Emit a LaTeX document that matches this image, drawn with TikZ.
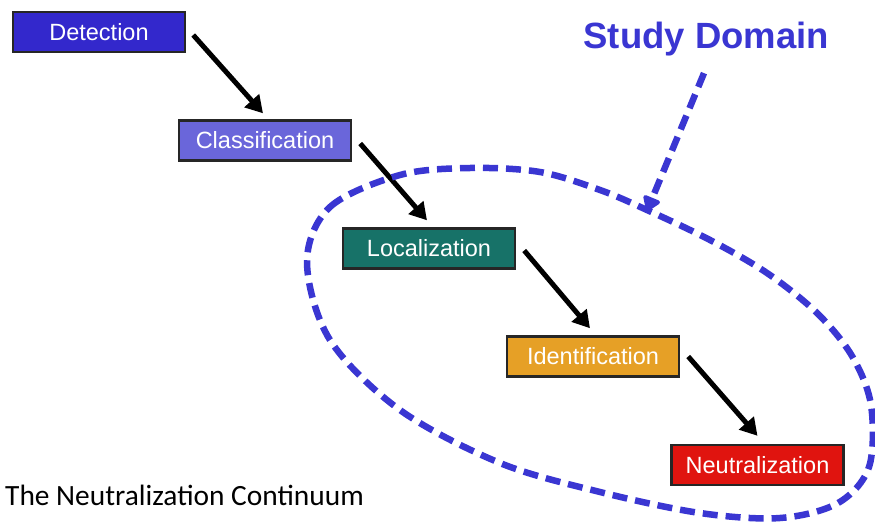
\documentclass[tikz,border=0pt]{standalone}
\usepackage{fontspec}
\setmainfont{Liberation Sans}
\newfontfamily\capfont{Carlito}
\usetikzlibrary{arrows.meta}
\definecolor{detc}{HTML}{3328CC}
\definecolor{clsc}{HTML}{6A66DA}
\definecolor{locc}{HTML}{177268}
\definecolor{idnc}{HTML}{E6A026}
\definecolor{neuc}{HTML}{E0140F}
\definecolor{domc}{HTML}{3A36D2}
\tikzset{
  stagebox/.style={draw=black!85, line width=2.4pt, minimum width=172pt, minimum height=40pt,
    inner sep=0pt, text=white, font=\fontsize{23.5}{23.5}\selectfont},
  flowarrow/.style={draw=black, line width=5pt, -{Triangle[length=17pt,width=19pt]}},
  domline/.style={draw=domc, line width=6.5pt, dash pattern=on 15pt off 8pt},
}
\begin{document}
\begin{tikzpicture}[x=1pt,y=-1pt]
\useasboundingbox (0,0) rectangle (875,522);
\node[stagebox, fill=detc] (det) at (99,32) {Detection};
\node[stagebox, fill=clsc] (cls) at (265,140.5) {Classification};
\node[stagebox, fill=locc] (loc) at (429,248.5) {Localization};
\node[stagebox, fill=idnc] (idn) at (593,356.5) {Identification};
\node[stagebox, fill=neuc] (neu) at (757.5,465) {Neutralization};
\draw[flowarrow] ([shift={(7,3)}]det.east) -- ([shift={(-2,-6)}]cls.north);
\draw[flowarrow] ([shift={(8,3)}]cls.east) -- ([shift={(-2,-7)}]loc.north);
\draw[flowarrow] ([shift={(8,2)}]loc.east) -- ([shift={(-3,-7)}]idn.north);
\draw[flowarrow] ([shift={(8,0)}]idn.east) -- ([shift={(0,-8)}]neu.north);
\draw[domline] plot[smooth cycle, tension=0.55] coordinates {
  (307,262) (330,207) (400,175) (470,168) (540,172) (600,190) (647,210)
  (710,240) (767,273) (817,313) (852,356) (871,405) (869,467) (838,503)
  (780,518) (700,513) (600,492) (500,463) (400,410) (330,340)};
\node[text=domc, font=\bfseries\fontsize{36.5}{36.5}\selectfont, anchor=base west] (lbl) at (580,48) {Study Domain};
\coordinate (tip) at (647,211);
\draw[domline, -{Triangle[length=16pt,width=20pt,round]}] ([shift={(124,14)}]lbl.south west) -- (tip);
\node[font=\capfont\fontsize{29.4}{29.4}\selectfont, anchor=base west, inner sep=0pt] (cap) at (5,505) {The Neutralization Continuum};
\end{tikzpicture}
\end{document}
